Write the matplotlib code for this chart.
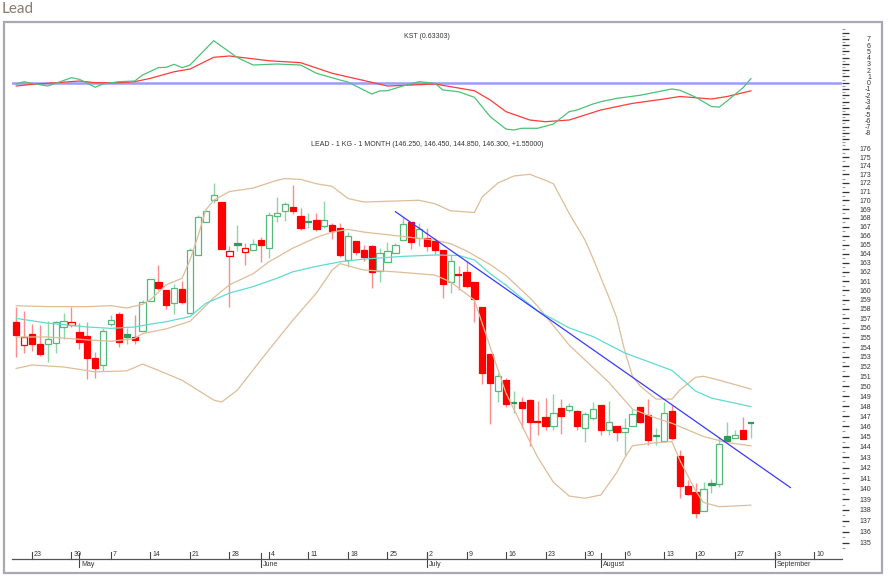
import numpy as np
import pandas as pd
import matplotlib
matplotlib.use("Agg")
import matplotlib.pyplot as plt
from matplotlib.patches import Rectangle
from matplotlib.ticker import FixedLocator, FixedFormatter, NullFormatter

plt.rcParams['font.family'] = ['Liberation Sans', 'DejaVu Sans']

# ---------------- trading sessions (15 Aug closed) ----------------
sessions = [d for d in pd.bdate_range("2018-04-19", "2018-09-14")
            if d.strftime("%m-%d") != "08-15"]
session_keys = [d.strftime("%m-%d") for d in sessions]
pos = {k: i for i, k in enumerate(session_keys)}

# ---------------- OHLC (19 Apr .. 29 Aug 2018) ----------------
opens = [156.6, 154.2, 155.35, 154.3, 154.3, 154.45, 156.05, 156.3, 155.55, 155.15,
         152.85, 152.2, 156.4, 157.45, 155.35, 155.0, 155.65, 158.9, 160.9, 160.05,
         158.6, 160.1, 157.55, 163.9, 167.5, 170.0, 169.8, 163.7, 165.15, 164.15,
         164.35, 165.5, 164.6, 168.25, 168.75, 169.2, 168.2, 167.45, 167.75, 167.1,
         167.2, 166.9, 163.25, 165.4, 164.4, 164.85, 162.1, 163.1, 164.05, 165.5,
         167.5, 165.7, 165.7, 165.4, 164.4, 160.9, 161.65, 161.95, 160.9, 158.2,
         153.3, 149.55, 150.6, 148.25, 148.45, 148.6, 146.45, 146.95, 146.05, 147.85,
         147.6, 147.5, 145.8, 146.8, 148.1, 145.65, 146.05, 145.4, 146.05, 147.95,
         147.1, 145.15, 144.55, 147.5, 143.15, 140.25, 139.65, 137.9, 140.55, 140.45,
         145.05, 144.9, 145.65, 146.25]
highs = [158.2, 157.8, 156.4, 156.3, 156.7, 156.75, 157.6, 158.25, 156.5, 156.6,
         153.5, 155.95, 157.35, 157.7, 155.95, 157.35, 158.95, 161.2, 162.8, 160.05,
         160.65, 161.05, 164.65, 168.3, 168.9, 171.95, 169.8, 164.9, 167.2, 165.15,
         165.6, 165.8, 168.7, 170.4, 169.8, 171.75, 169.1, 168.5, 168.6, 169.9,
         167.4, 167.4, 166.35, 165.4, 164.95, 164.95, 164.6, 165.25, 165.15, 168.05,
         167.55, 167.45, 166.8, 165.7, 164.4, 163.85, 162.65, 163.2, 160.9, 158.2,
         153.3, 151.35, 150.85, 149.55, 148.95, 148.75, 148.55, 148.85, 149.2, 148.75,
         148.35, 147.6, 147.45, 148.45, 148.1, 148.5, 146.05, 146.85, 147.75, 147.95,
         148.7, 145.8, 148.45, 148.1, 143.7, 140.8, 140.5, 140.65, 140.9, 145.0,
         146.45, 145.6, 146.95, 146.45]
lows = [153.0, 153.4, 153.6, 153.1, 152.5, 153.4, 154.8, 156.1, 153.75, 150.7,
        150.85, 151.55, 156.2, 154.05, 154.3, 154.3, 155.65, 158.9, 160.05, 157.95,
        157.45, 158.5, 157.55, 163.9, 167.5, 169.65, 164.55, 158.25, 164.3, 162.8,
        164.35, 163.1, 163.55, 167.55, 167.65, 168.4, 166.65, 166.8, 166.55, 166.8,
        165.6, 163.6, 162.5, 163.85, 163.2, 160.2, 160.85, 163.1, 164.05, 165.5,
        164.5, 164.9, 164.3, 163.95, 159.15, 159.7, 160.05, 160.2, 156.65, 150.2,
        146.2, 148.4, 147.9, 147.3, 145.8, 144.1, 145.1, 145.6, 145.65, 145.25,
        147.4, 145.65, 144.45, 146.6, 145.15, 145.15, 144.55, 143.2, 146.05, 146.3,
        144.15, 144.15, 144.55, 144.65, 139.1, 139.4, 137.3, 137.9, 139.55, 140.15,
        144.6, 144.9, 144.75, 144.85]
closes = [155.3, 155.0, 154.35, 153.3, 154.8, 156.6, 156.7, 156.6, 154.55, 152.9,
          151.85, 155.65, 156.8, 154.55, 155.05, 154.7, 158.7, 161.2, 160.3, 158.45,
          160.3, 158.75, 164.45, 168.1, 168.8, 170.55, 164.55, 164.3, 164.95, 164.6,
          165.05, 165.0, 168.3, 168.6, 169.55, 168.8, 166.8, 167.5, 166.7, 167.75,
          166.5, 163.85, 165.95, 164.2, 163.65, 162.0, 164.05, 164.3, 164.95, 167.25,
          165.3, 166.7, 164.9, 164.4, 160.7, 163.2, 161.6, 160.45, 159.1, 151.35,
          150.35, 151.05, 148.2, 148.3, 147.85, 146.45, 146.4, 146.05, 147.3, 147.05,
          148.0, 146.05, 147.2, 147.75, 145.6, 146.4, 145.45, 145.85, 147.2, 146.45,
          144.65, 145.05, 147.35, 144.9, 140.25, 139.45, 137.7, 139.95, 140.35, 144.25,
          144.6, 145.15, 144.75, 146.3]

# ---------------- Bollinger bands (20) ----------------
bb_upper_dates = ["04-19", "04-25", "05-02", "05-07", "05-09", "05-11", "05-14", "05-16",
                  "05-18", "05-21", "05-22", "05-23", "05-24", "05-28", "05-31", "06-05",
                  "06-06", "06-08", "06-12", "06-14", "06-18", "06-20", "06-29", "07-03",
                  "07-05", "07-10", "07-11", "07-13", "07-17", "07-19", "07-23", "07-24",
                  "07-26", "07-30", "07-31", "08-02", "08-03", "08-06", "08-07", "08-08",
                  "08-10", "08-14", "08-16", "08-20", "08-21", "08-23", "08-29"]
bb_upper = [158.35, 158.25, 158.25, 158.35, 158.1, 158.5, 159.0, 160.6,
            161.3, 163.3, 165.9, 168.9, 170.0, 171.0, 171.4, 172.3,
            172.5, 172.4, 171.9, 171.6, 170.2, 169.8, 170.0, 169.6,
            168.8, 168.6, 170.4, 172.0, 172.8, 173.0, 172.3, 171.9,
            168.5, 165.5, 163.5, 159.3, 157.1, 153.7, 151.0, 150.0,
            148.7, 148.7, 149.6, 150.9, 151.0, 150.6, 149.7]

bb_mid_dates = ["04-19", "04-25", "05-02", "05-07", "05-10", "05-11", "05-16", "05-21",
                "05-22", "05-24", "05-28", "05-31", "06-04", "06-07", "06-12", "06-14",
                "06-18", "06-20", "06-26", "07-03", "07-05", "07-09", "07-12", "07-16",
                "07-19", "07-20", "07-26", "08-02", "08-07", "08-10", "08-14", "08-21",
                "08-24", "08-29"]
bb_mid = [155.05, 155.05, 154.75, 154.6, 154.9, 155.4, 155.9, 156.7,
          157.5, 159.2, 160.6, 161.8, 163.1, 164.6, 165.8, 166.4,
          166.7, 166.4, 166.0, 165.5, 165.1, 164.3, 162.8, 161.6,
          159.2, 158.3, 154.2, 150.4, 147.7, 146.8, 146.3, 145.0,
          144.4, 144.1]

bb_lower_dates = ["04-19", "04-23", "04-27", "05-03", "05-09", "05-11", "05-15", "05-18",
                  "05-22", "05-24", "05-25", "05-29", "06-01", "06-07", "06-12", "06-14",
                  "06-15", "06-20", "06-26", "07-03", "07-05", "07-10", "07-12", "07-16",
                  "07-18", "07-20", "07-24", "07-26", "07-30", "08-01", "08-03", "08-06",
                  "08-07", "08-10", "08-14", "08-16", "08-20", "08-21", "08-23", "08-29"]
bb_lower = [151.8, 152.15, 151.95, 151.45, 151.55, 152.25, 151.6, 150.6,
            149.6, 148.6, 148.4, 149.6, 152.7, 156.8, 159.7, 162.2,
            162.9, 162.2, 162.0, 161.65, 160.9, 158.95, 154.0, 149.3,
            146.1, 143.0, 140.6, 139.3, 139.1, 139.4, 141.5, 142.9,
            144.1, 144.4, 144.5, 142.7, 139.8, 138.7, 138.3, 138.45]

ma_dates = ["04-19", "04-25", "05-02", "05-07", "05-10", "05-14", "05-16", "05-21",
            "05-23", "05-28", "05-31", "06-05", "06-07", "06-12", "06-15", "06-20",
            "06-27", "07-03", "07-06", "07-10", "07-12", "07-16", "07-18", "07-20",
            "07-24", "07-26", "07-31", "08-06", "08-14", "08-20", "08-22", "08-29"]
ma_long = [157.0, 156.5, 156.1, 155.95, 156.1, 156.4, 156.65, 157.2,
           158.6, 159.7, 160.4, 161.3, 162.0, 162.6, 163.1, 163.4,
           163.7, 163.85, 163.8, 163.3, 161.8, 160.55, 159.15, 157.8,
           156.9, 156.0, 155.1, 153.4, 151.6, 149.5, 148.8, 147.95]

trend_dates = ["06-26", "09-05"]
trend_prices = [168.7, 140.1]

# ---------------- KST ----------------
kst_dates = ["04-19", "04-20", "04-23", "04-25", "04-26", "04-30", "05-01", "05-03",
             "05-04", "05-08", "05-10", "05-11", "05-15", "05-16", "05-17", "05-18",
             "05-21", "05-24", "05-29", "05-31", "06-05", "06-08", "06-12", "06-15",
             "06-18", "06-21", "06-22", "06-25", "06-27", "06-29", "07-03", "07-04",
             "07-06", "07-10", "07-12", "07-16", "07-17", "07-18", "07-20", "07-24",
             "07-26", "07-27", "07-31", "08-01", "08-03", "08-08", "08-10", "08-14",
             "08-16", "08-20", "08-22", "08-23", "08-24", "08-28", "08-29"]
kst = [-0.2, 0.16, -0.1, -0.53, -0.1, 0.8, 0.54, -0.73,
       -0.2, 0.16, 0.27, 1.23, 2.4, 2.46, 2.93, 2.4,
       2.82, 6.7, 4.0, 2.82, 2.98, 2.82, 1.5, 0.43,
       0.1, -1.8, -1.32, -1.28, -0.5, 0.16, -0.1, -1.16,
       -1.44, -2.33, -5.42, -7.4, -7.54, -7.27, -7.27, -6.59,
       -4.62, -4.35, -3.4, -3.03, -2.5, -2.0, -1.5, -1.0,
       -1.2, -2.3, -3.8, -3.9, -2.9, -0.8, 0.633]
sig_dates = ["04-19", "04-23", "04-25", "05-01", "05-03", "05-08", "05-10", "05-14",
             "05-17", "05-21", "05-24", "05-28", "06-04", "06-08", "06-14", "06-21",
             "06-25", "06-28", "07-03", "07-05", "07-10", "07-12", "07-16", "07-19",
             "07-23", "07-26", "08-01", "08-07", "08-13", "08-16", "08-20", "08-22",
             "08-24", "08-29"]
kst_signal = [-0.53, -0.26, -0.1, 0.27, 0.0, 0.0, 0.16, 0.7,
              1.75, 2.18, 4.05, 4.26, 3.5, 3.19, 1.5, 0.06,
              -0.53, -0.37, -0.2, -0.64, -1.28, -2.76, -4.62, -5.95,
              -6.22, -5.95, -4.35, -3.3, -2.6, -2.2, -2.4, -2.6,
              -2.2, -1.3]

day_ticks = ["04-23", "04-30", "05-07", "05-14", "05-21", "05-28", "06-04", "06-11",
             "06-18", "06-25", "07-02", "07-09", "07-16", "07-23", "07-30", "08-06",
             "08-13", "08-20", "08-27", "09-03", "09-10"]
month_starts = ["05-01", "06-01", "07-02", "08-01", "09-03"]
month_names = ["May", "June", "July", "August", "September"]

kst_title = "KST (0.63303)"
price_title = "LEAD - 1 KG - 1 MONTH (146.250, 146.450, 144.850, 146.300, +1.55000)"

# ---------------- figure ----------------
W, H = 890, 584
fig = plt.figure(figsize=(W / 100, H / 100), dpi=100)
fig.patch.set_facecolor("white")


def fbox(x0, y0, x1, y1):
    return [x0 / W, 1 - y1 / H, (x1 - x0) / W, (y1 - y0) / H]


# outer frame
fig.add_artist(Rectangle((4 / W, 1 - 573 / H), 878 / W, 551 / H, transform=fig.transFigure,
                         fill=False, edgecolor="#a9a9b4", lw=1.6))
fig.text(2 / W, 1 - 9 / H, "Lead", fontsize=11, color="#8a7a70", ha="left", va="center",
         family=["Lato", "DejaVu Sans"])

X0, X1 = 12, 842
ax = fig.add_axes(fbox(X0, 140, X1, 559))
axk = fig.add_axes(fbox(X0, 25, X1, 145))
for a in (ax, axk):
    a.set_facecolor("none")
    a.set_xlim(-0.53, 104.53)
    a.set_xticks([])
    for s in ("top", "left", "right"):
        a.spines[s].set_visible(False)
axk.spines["bottom"].set_visible(False)
ax.spines["bottom"].set_color("#555555")
ax.spines["bottom"].set_linewidth(0.9)

# ---------------- price panel ----------------
ax.set_yscale("log")
ax.set_ylim(133.52, 177.04)
ax.yaxis.set_major_locator(FixedLocator(list(range(135, 177))))
ax.yaxis.set_major_formatter(FixedFormatter([str(v) for v in range(135, 177)]))
ax.yaxis.set_minor_locator(FixedLocator([v + 0.5 for v in range(134, 177)]))
ax.yaxis.set_minor_formatter(NullFormatter())
ax.yaxis.tick_right()
ax.tick_params(axis="y", which="major", length=5, width=0.9, color="#333333",
               pad=15.8, labelsize=5, labelcolor="#333333")
ax.tick_params(axis="y", which="minor", length=2, width=0.8, color="#9a9a9a")
for t in ax.get_yticklabels():
    t.set_horizontalalignment("right")

RED, RED_WICK = "#ff0000", "#ff8c8c"
GREEN_EDGE, GREEN_FILL, GREEN_WICK = "#55b97a", "#2a9d5c", "#8fd6a6"
n = len(closes)
prev = [opens[0]] + closes[:-1]
for i in range(n):
    o, h, l, c = opens[i], highs[i], lows[i], closes[i]
    green = c > prev[i]
    wick = GREEN_WICK if green else RED_WICK
    edge = GREEN_EDGE if green else RED
    ax.vlines(i, l, h, color=wick, lw=1.0, zorder=2)
    lo, hi = min(o, c), max(o, c)
    if hi - lo < 0.08:
        ax.hlines((o + c) / 2, i - 0.42, i + 0.42, color=(GREEN_FILL if green else RED),
                  lw=1.6, zorder=3)
        continue
    if c > o:
        fc = "white"
    else:
        fc = GREEN_FILL if green else RED
        edge = fc
    ax.add_patch(Rectangle((i - 0.4, lo), 0.8, hi - lo, facecolor=fc, edgecolor=edge,
                           lw=0.9, zorder=3))


def xs(dates):
    return [pos[d] for d in dates]


TAN = "#dfbd98"
ax.plot(xs(bb_upper_dates), bb_upper, color=TAN, lw=0.9, zorder=4)
ax.plot(xs(bb_mid_dates), bb_mid, color=TAN, lw=0.9, zorder=4)
ax.plot(xs(bb_lower_dates), bb_lower, color=TAN, lw=0.9, zorder=4)
ax.plot(xs(ma_dates), ma_long, color="#5fdcd2", lw=0.9, zorder=4)
ax.plot(xs(trend_dates), trend_prices, color="#3a3aff", lw=0.9, zorder=5)

# x axis: weekly ticks above the line, months below
tr = ax.get_xaxis_transform()
px = 1 / 419.0
for d in day_ticks:
    i = pos[d]
    ax.plot([i, i], [0, 7 * px], transform=tr, color="#444444", lw=0.8, clip_on=False)
    ax.text(i + 0.25, 0.8 * px, str(int(d[3:])), transform=tr, fontsize=5, color="#333333",
            ha="left", va="bottom", clip_on=False)
for d, name in zip(month_starts, month_names):
    i = pos[d]
    ax.plot([i, i], [6 * px, -8 * px], transform=tr, color="#444444", lw=0.8, clip_on=False)
    ax.text(i + 0.25, -1.5 * px, name, transform=tr, fontsize=5, color="#333333",
            ha="left", va="top", clip_on=False)

# ---------------- KST panel ----------------
axk.set_ylim((82.7 - 145) / 6.27, (82.7 - 25) / 6.27)
axk.yaxis.set_major_locator(FixedLocator(list(range(-9, 9))))
axk.yaxis.set_major_formatter(FixedFormatter(
    [str(v) if -8 <= v <= 7 else "" for v in range(-9, 9)]))
axk.yaxis.set_minor_locator(FixedLocator([v + 0.5 for v in range(-10, 9)]))
axk.yaxis.set_minor_formatter(NullFormatter())
axk.yaxis.tick_right()
axk.tick_params(axis="y", which="major", length=5, width=0.9, color="#333333",
                pad=15.8, labelsize=5, labelcolor="#333333")
axk.tick_params(axis="y", which="minor", length=2, width=0.8, color="#9a9a9a")
for t in axk.get_yticklabels():
    t.set_horizontalalignment("right")

axk.axhline(0, color="#9a9aff", lw=1.8, zorder=1)
axk.plot(xs(sig_dates), kst_signal, color="#ff3b3b", lw=0.9, zorder=3)
axk.plot(xs(kst_dates), kst, color="#4cc277", lw=0.9, zorder=4)

fig.text(427 / W, 1 - 37 / H, kst_title, fontsize=5, color="#333333", ha="center", va="center")
fig.text(427.5 / W, 1 - 144 / H, price_title, fontsize=5, color="#333333",
         ha="center", va="center")

fig.savefig("out.png", dpi=100, facecolor="white")
